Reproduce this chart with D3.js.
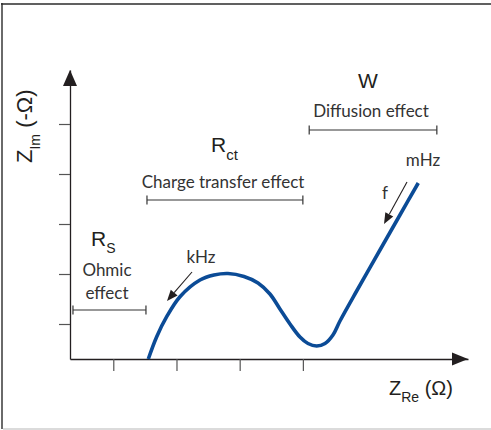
<!DOCTYPE html>
<html>
<head>
<meta charset="utf-8">
<script src="https://cdn.jsdelivr.net/npm/d3@7/dist/d3.min.js"></script>
<style>
  html, body { margin: 0; padding: 0; background: #fff; }
  svg { display: block; }
</style>
</head>
<body>
<svg id="chart" width="491" height="430"></svg>
<script>
// ---- data (arbitrary units) ----
const zRe = [1.554, 1.687, 1.845, 2.055, 2.372, 2.593, 2.815, 3.068, 3.290, 3.479, 3.637, 3.796, 3.954, 4.081, 4.218, 4.350, 4.476, 4.587, 4.851, 5.220, 5.536, 5.826];
const zIm = [0.30, 0.746, 1.146, 1.546, 1.88, 1.98, 2.01, 1.95, 1.82, 1.60, 1.30, 1.00, 0.74, 0.61, 0.56, 0.61, 0.78, 1.06, 1.66, 2.48, 3.18, 3.82];
const xTickValues = [1, 2, 3, 4];
const yTickValues = [1, 2, 3, 4, 5];
const regionNames = ["Rs", "Rct", "W"];
const regionEffects = [["Ohmic", "effect"], ["Charge transfer effect"], ["Diffusion effect"]];
const regionStart = [0.362, 1.533, 4.10];
const regionEnd = [1.517, 4.0, 6.12];
const freqLabels = ["kHz", "mHz", "f"];

const svg = d3.select("#chart");
const labelFont = "'Liberation Sans', Arial, sans-serif";
const textFont = "Lato, 'Open Sans', sans-serif";

// frame
svg.append("line").attr("x1", 2).attr("x2", 2).attr("y1", 3).attr("y2", 429)
  .attr("stroke", "#6a6a6a").attr("stroke-width", 2);
svg.append("line").attr("x1", 1).attr("x2", 491).attr("y1", 4).attr("y2", 4)
  .attr("stroke", "#2b2b2b").attr("stroke-width", 1.6);
svg.append("line").attr("x1", 3).attr("x2", 491).attr("y1", 429).attr("y2", 429)
  .attr("stroke", "#cfcfcf").attr("stroke-width", 1.5);

// scales
const x = d3.scaleLinear().domain([0.315, 6.613]).range([70, 468]);
const y = d3.scaleLinear().domain([0.3, 6.08]).range([359, 70]);

// axes
const gx = svg.append("g").attr("transform", `translate(0,${y(0.3)})`)
  .call(d3.axisBottom(x).tickValues(xTickValues).tickFormat("").tickSizeInner(12).tickSizeOuter(0));
gx.select(".domain").attr("stroke", "#231f20").attr("stroke-width", 1.3);
gx.selectAll(".tick line").attr("stroke", "#555").attr("stroke-width", 1.2);

const gy = svg.append("g").attr("transform", `translate(${x(0.315)},0)`)
  .call(d3.axisLeft(y).tickValues(yTickValues).tickFormat("").tickSizeInner(11).tickSizeOuter(0));
gy.select(".domain").attr("stroke", "#231f20").attr("stroke-width", 1.3);
gy.selectAll(".tick line").attr("stroke", "#555").attr("stroke-width", 1.2);

// axis arrowheads
const ax0 = x(0.315), ay0 = y(0.3), xEnd = x(6.613), yEnd = y(6.08);
svg.append("path").attr("d", `M${xEnd},${ay0} L${xEnd - 16},${ay0 - 6.5} L${xEnd - 16},${ay0 + 6.5} Z`).attr("fill", "#231f20");
svg.append("path").attr("d", `M${ax0},${yEnd} L${ax0 - 7},${yEnd + 16} L${ax0 + 7},${yEnd + 16} Z`).attr("fill", "#231f20");

// curve
const pts = zRe.map((v, i) => [v, zIm[i]]);
svg.append("path").datum(pts)
  .attr("d", d3.line().x(d => x(d[0])).y(d => y(d[1])).curve(d3.curveCatmullRom.alpha(0.5)))
  .attr("fill", "none").attr("stroke", "#0b4b96").attr("stroke-width", 3.6).attr("stroke-linecap", "butt");

// axis labels
const xl = svg.append("text").attr("x", 389).attr("y", 395)
  .attr("font-family", labelFont).attr("fill", "#231f20").attr("font-size", 20);
xl.append("tspan").text("Z");
xl.append("tspan").attr("font-size", 14).attr("dy", 7).text("Re");
xl.append("tspan").attr("dy", -7).text(" (Ω)");

const yl = svg.append("text").attr("transform", "translate(32,163) rotate(-90)")
  .attr("font-family", labelFont).attr("fill", "#231f20").attr("font-size", 22);
yl.append("tspan").text("Z");
yl.append("tspan").attr("font-size", 14).attr("dy", 8).text("Im");
yl.append("tspan").attr("dy", -8).text(" (-Ω)");

// region brackets
const bracketY = [1.28, 3.48, 4.88];
regionStart.forEach((s, i) => {
  const yy = y(bracketY[i]);
  const g = svg.append("g").attr("stroke", "#333").attr("stroke-width", 1.2);
  g.append("line").attr("x1", x(s)).attr("x2", x(regionEnd[i])).attr("y1", yy).attr("y2", yy);
  g.append("line").attr("x1", x(s)).attr("x2", x(s)).attr("y1", yy - 4.5).attr("y2", yy + 4.5);
  g.append("line").attr("x1", x(regionEnd[i])).attr("x2", x(regionEnd[i])).attr("y1", yy - 4.5).attr("y2", yy + 4.5);
});

// region titles
function titled(xp, yp, main, sub, size, subSize, shift) {
  const t = svg.append("text").attr("x", xp).attr("y", yp).attr("font-family", labelFont)
    .attr("fill", "#231f20").attr("font-size", size);
  t.append("tspan").text(main);
  if (sub) t.append("tspan").attr("font-size", subSize).attr("dy", shift).text(sub);
  return t;
}
titled(91, 246, "R", "S", 21, 14, 7);
titled(211, 152, "R", "ct", 21, 15, 8);
titled(368, 88, "W", null, 21).attr("text-anchor", "middle");

// effect labels
const effPos = [[107, 276], [223, 188], [371, 117]];
regionEffects.forEach((lines, i) => {
  lines.forEach((ln, j) => {
    svg.append("text").attr("x", effPos[i][0]).attr("y", effPos[i][1] + j * 23)
      .attr("text-anchor", "middle").attr("font-family", textFont).attr("font-size", 17)
      .attr("fill", "#333").text(ln);
  });
});

// frequency labels
svg.append("text").attr("x", 201).attr("y", 263).attr("text-anchor", "middle")
  .attr("font-family", textFont).attr("font-size", 17).attr("fill", "#333").text(freqLabels[0]);
svg.append("text").attr("x", 423).attr("y", 166).attr("text-anchor", "middle")
  .attr("font-family", textFont).attr("font-size", 17).attr("fill", "#333").text(freqLabels[1]);
svg.append("text").attr("x", 385).attr("y", 199).attr("text-anchor", "middle")
  .attr("font-family", textFont).attr("font-size", 17).attr("fill", "#333").text(freqLabels[2]);

// small arrows
function arrow(x1, y1, x2, y2) {
  const ang = Math.atan2(y2 - y1, x2 - x1);
  const L = 11, W = 4.5;
  const bx = x2 - L * Math.cos(ang), by = y2 - L * Math.sin(ang);
  svg.append("line").attr("x1", x1).attr("y1", y1).attr("x2", bx).attr("y2", by)
    .attr("stroke", "#231f20").attr("stroke-width", 1.1);
  const px = -Math.sin(ang) * W, py = Math.cos(ang) * W;
  svg.append("path").attr("d", `M${x2},${y2} L${bx + px},${by + py} L${bx - px},${by - py} Z`).attr("fill", "#231f20");
}
arrow(192, 272, 167, 301);
arrow(407, 182, 384, 224);
</script>
</body>
</html>
